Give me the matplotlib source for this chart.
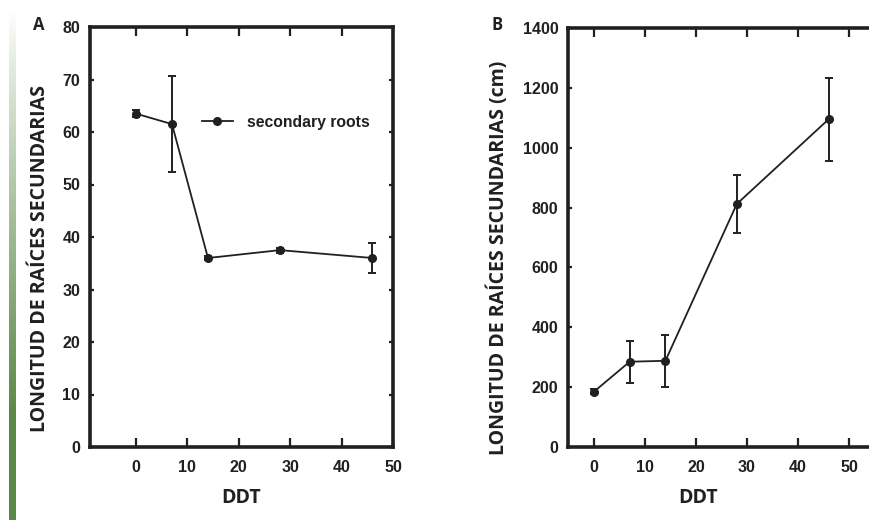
import numpy as np
import matplotlib
matplotlib.use("Agg")
import matplotlib.pyplot as plt
from matplotlib.colors import LinearSegmentedColormap
from matplotlib.lines import Line2D

# ---- data ----
days = [0, 7, 14, 28, 46]
roots_a = [63.5, 61.5, 36.0, 37.5, 36.0]
err_a = [0.7, 9.2, 0.3, 0.5, 2.8]
roots_b = [185, 285, 288, 812, 1095]
err_b = [8, 70, 86, 96, 139]
xticks = [0, 10, 20, 30, 40, 50]
yticks_a = [0, 10, 20, 30, 40, 50, 60, 70, 80]
yticks_b = [0, 200, 400, 600, 800, 1000, 1200, 1400]
legend_label = "secondary roots"
ylabel_a = "LONGITUD DE RAÍCES SECUNDARIAS"
ylabel_b = "LONGITUD DE RAÍCES SECUNDARIAS (cm)"
xlabel = "DDT"

INK = "#231f20"
TICKFONT = ["Liberation Sans Narrow", "Liberation Sans", "DejaVu Sans"]
LABFONT = ["Open Sans", "DejaVu Sans"]

fig = plt.figure(figsize=(8.7, 5.2), dpi=100)

# green gradient strip at left edge (white at top -> green at bottom)
gax = fig.add_axes([9 / 870, 0, 7 / 870, 510 / 520])
t = np.linspace(0, 1, 256)
s = np.clip(t / 0.8, 0, 1) ** 0.9
grad = s.reshape(-1, 1)
cmap = LinearSegmentedColormap.from_list("g", ["#ffffff", "#5a8846"])
gax.imshow(grad, aspect="auto", cmap=cmap, vmin=0, vmax=1, origin="upper")
gax.set_axis_off()


def style(ax, xlim, ylim, yticks):
    ax.set_xlim(*xlim)
    ax.set_ylim(*ylim)
    ax.set_xticks(xticks)
    ax.set_yticks(yticks)
    for sp in ax.spines.values():
        sp.set_linewidth(2.6)
        sp.set_color(INK)
    ax.tick_params(axis="x", which="major", direction="in", length=6.5, width=1.6,
                   top=True, bottom=True, color=INK, pad=9)
    ax.tick_params(axis="y", which="major", direction="in", length=3, width=1.6,
                   left=True, right=True, color=INK, pad=7)
    for lab in ax.get_xticklabels() + ax.get_yticklabels():
        lab.set_fontfamily(TICKFONT)
        lab.set_fontweight("bold")
        lab.set_fontsize(11.5)
        lab.set_color(INK)


# ---- panel A ----
axA = fig.add_axes([90 / 870, 73 / 520, 303 / 870, 420 / 520])
axA.errorbar(days, roots_a, yerr=err_a, color=INK, lw=1.3, marker="o", ms=5.5,
             elinewidth=1.4, capsize=3.2, capthick=1.4)
style(axA, (-8.95, 50), (0, 80), yticks_a)
handle = Line2D([], [], color=INK, lw=1.3, marker="o", ms=5.5)
leg = axA.legend([handle], [legend_label], loc="center left",
                 bbox_to_anchor=(0.37, 0.773), frameon=False,
                 handlelength=1.95, handletextpad=0.9, borderpad=0, borderaxespad=0,
                 prop={"family": TICKFONT, "weight": "bold", "size": 11.3})
for tx in leg.get_texts():
    tx.set_color(INK)

# ---- panel B ----
axB = fig.add_axes([568 / 870, 73 / 520, 307 / 870, 419 / 520])
axB.errorbar(days, roots_b, yerr=err_b, color=INK, lw=1.3, marker="o", ms=5.5,
             elinewidth=1.4, capsize=3.2, capthick=1.4)
style(axB, (-5.1, 55.1), (0, 1400), yticks_b)

# axis labels
for xc, lab in [(40, ylabel_a), (498, ylabel_b)]:
    fig.text(xc / 870, 1 - 258 / 520, lab, rotation=90, ha="center", va="center",
             fontfamily=LABFONT, fontweight="bold", fontsize=14, color=INK)
for xc in [241, 698]:
    fig.text(xc / 870, 1 - 498 / 520, xlabel, ha="center", va="center",
             fontfamily=LABFONT, fontweight="bold", fontsize=14, color=INK)
for xc, lab in [(39, "A"), (497, "B")]:
    fig.text(xc / 870, 1 - 25 / 520, lab, ha="center", va="center",
             fontfamily=LABFONT, fontweight="bold", fontsize=12, color=INK)

fig.savefig("out.png", dpi=100)
